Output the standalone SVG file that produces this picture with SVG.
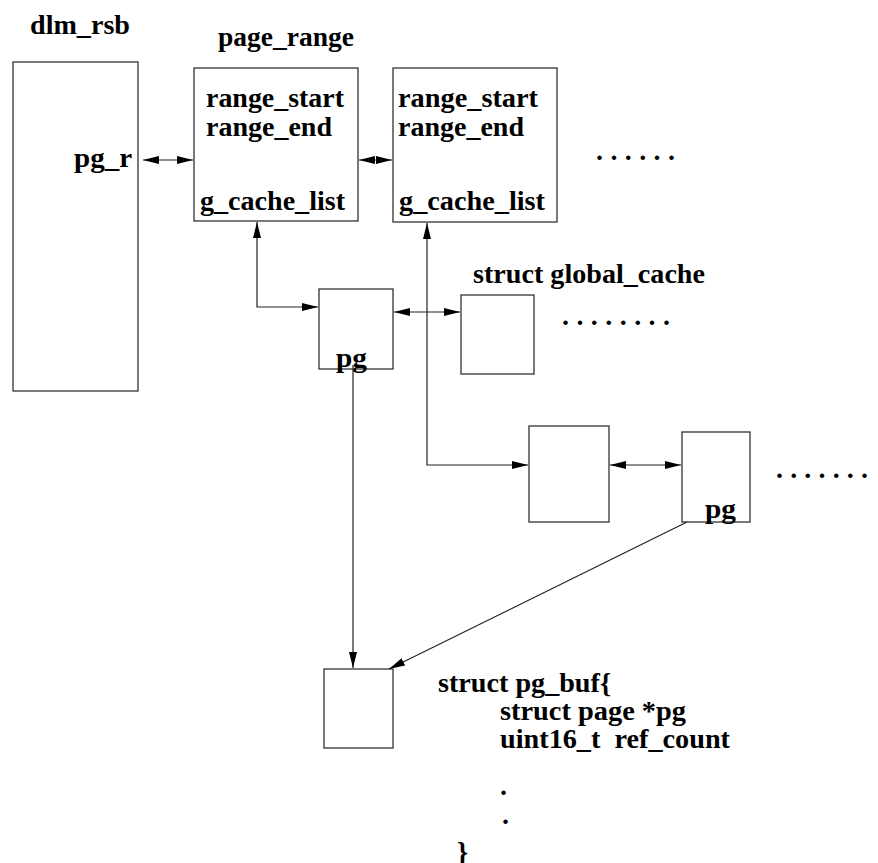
<svg xmlns="http://www.w3.org/2000/svg" width="878" height="863" viewBox="0 0 878 863">
<style>
.box{fill:#fff;stroke:#333;stroke-width:1.3}
.t{font-family:"Liberation Serif","Times New Roman",serif;font-weight:bold;font-size:28px;fill:#000}
.c{fill:none;stroke:#222;stroke-width:1.2}
</style>
<defs>
<marker id="ah" viewBox="0 0 16 8" refX="16" refY="4" markerWidth="16" markerHeight="8" markerUnits="userSpaceOnUse" orient="auto-start-reverse">
<path d="M0,0 L16,4 L0,8 z" fill="#000"/>
</marker>
</defs>
<rect width="878" height="863" fill="#fff"/>

<g id="dlm_rsb">
<rect class="box" x="13" y="62" width="125" height="329"/>
<text class="t" x="30" y="34" textLength="100" lengthAdjust="spacingAndGlyphs">dlm_rsb</text>
<text class="t" x="74" y="167" textLength="58" lengthAdjust="spacingAndGlyphs">pg_r</text>
</g>

<g id="page_range_title">
<text class="t" x="218" y="46" textLength="136" lengthAdjust="spacingAndGlyphs">page_range</text>
</g>

<g id="page_range1">
<rect class="box" x="194" y="68" width="164" height="153"/>
<text class="t" x="206" y="107" textLength="138" lengthAdjust="spacingAndGlyphs">range_start</text>
<text class="t" x="206" y="136" textLength="126" lengthAdjust="spacingAndGlyphs">range_end</text>
<text class="t" x="200" y="210" textLength="145" lengthAdjust="spacingAndGlyphs">g_cache_list</text>
</g>

<g id="page_range2">
<rect class="box" x="393" y="68" width="164" height="154"/>
<text class="t" x="398" y="107" textLength="140" lengthAdjust="spacingAndGlyphs">range_start</text>
<text class="t" x="398" y="136" textLength="126" lengthAdjust="spacingAndGlyphs">range_end</text>
<text class="t" x="399" y="210" textLength="146" lengthAdjust="spacingAndGlyphs">g_cache_list</text>
</g>

<g id="dots1">
<text class="t" x="596" y="160" textLength="79" lengthAdjust="spacing">. . . . . .</text>
</g>

<g id="pg_node1">
<rect class="box" x="319" y="289" width="74" height="80"/>
<text class="t" x="336" y="367" textLength="31" lengthAdjust="spacingAndGlyphs">pg</text>
</g>

<g id="global_cache">
<text class="t" x="473" y="283" textLength="232" lengthAdjust="spacingAndGlyphs">struct global_cache</text>
<rect class="box" x="461" y="295" width="73" height="79"/>
</g>

<g id="dots2">
<text class="t" x="562" y="325" textLength="108" lengthAdjust="spacing">. . . . . . . .</text>
</g>

<g id="gc_node2">
<rect class="box" x="529" y="426" width="80" height="96"/>
</g>

<g id="pg_node2">
<rect class="box" x="682" y="432" width="68" height="90"/>
<text class="t" x="705" y="518" textLength="31" lengthAdjust="spacingAndGlyphs">pg</text>
</g>

<g id="dots3">
<text class="t" x="776" y="478" textLength="92" lengthAdjust="spacing">. . . . . . .</text>
</g>

<g id="pg_buf">
<rect class="box" x="324" y="669" width="69" height="79"/>
<text class="t" x="438" y="692" textLength="173" lengthAdjust="spacingAndGlyphs">struct pg_buf{</text>
<text class="t" x="500" y="720" textLength="186" lengthAdjust="spacingAndGlyphs">struct page *pg</text>
<text class="t" x="500" y="748" textLength="230" lengthAdjust="spacingAndGlyphs" xml:space="preserve">uint16_t  ref_count</text>
<text class="t" x="500" y="795">.</text>
<text class="t" x="502" y="824">.</text>
<text class="t" x="457" y="861">}</text>
</g>

<g id="connectors">
<path class="c" d="M143,160 L193,160" marker-start="url(#ah)" marker-end="url(#ah)"/>
<path class="c" d="M359,160 L392,160" marker-start="url(#ah)" marker-end="url(#ah)"/>
<path class="c" d="M257,222 L257,307 L318,307" marker-start="url(#ah)" marker-end="url(#ah)"/>
<path class="c" d="M394,312 L460,312" marker-start="url(#ah)" marker-end="url(#ah)"/>
<path class="c" d="M427,223 L427,465 L528,465" marker-start="url(#ah)" marker-end="url(#ah)"/>
<path class="c" d="M610,465 L681,465" marker-start="url(#ah)" marker-end="url(#ah)"/>
<path class="c" d="M353,365 L353,668" marker-end="url(#ah)"/>
<path class="c" d="M687,522 L389,669" marker-end="url(#ah)"/>
</g>
</svg>
